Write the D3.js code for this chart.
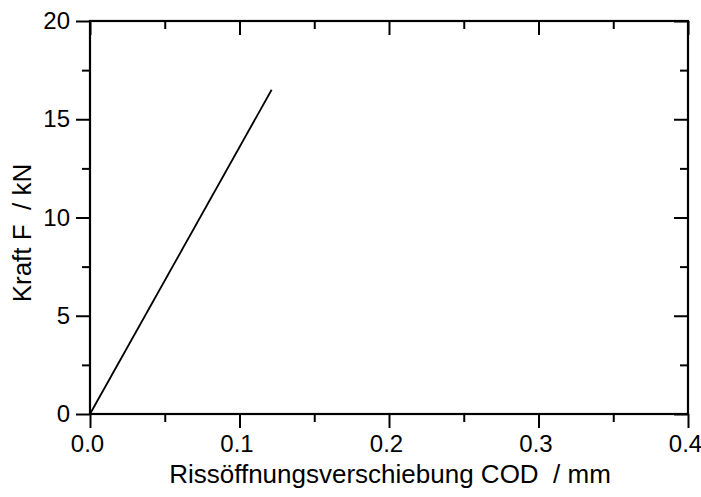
<!DOCTYPE html>
<html lang="de">
<head>
    <meta charset="UTF-8">
    <title>Kraft-COD</title>
    <script src="https://d3js.org/d3.v7.min.js"></script>
    <style>
        body {margin: 0; background: white}
        text {
            font-family: 'Liberation Sans', Arial, sans-serif;
            fill: black;
        }
        .tick text {font-size: 24px}
        .label {font-size: 26px; white-space: pre}
        .domain {display: none}
        .tick line {stroke: black; stroke-width: 2}
        .frame {fill: none; stroke: black; stroke-width: 2.2}
        .curve {fill: none; stroke: black; stroke-width: 1.8}
    </style>
</head>
<body>
<script>
    const width  = 701;
    const height = 497;
    const mLeft = 90, mRight = 688, mTop = 21, mBottom = 414;

    // data
    const cod   = [0, 0.1215];   // mm
    const force = [0, 16.5];     // kN
    const xTicks = [0, 0.1, 0.2, 0.3, 0.4];
    const yTicks = [0, 5, 10, 15, 20];
    const xMinor = [0.05, 0.15, 0.25, 0.35];
    const yMinor = [2.5, 7.5, 12.5, 17.5];

    const x = d3.scaleLinear().domain([0, 0.4]).range([mLeft, mRight]);
    const y = d3.scaleLinear().domain([0, 20]).range([mBottom, mTop]);

    const svg = d3.select("body").append("svg")
            .attr("width", width).attr("height", height);

    const major = 14, minor = 8;

    // bottom: outward ticks with labels
    svg.append("g").attr("class", "xaxis").attr("transform", `translate(0,${mBottom})`)
        .call(d3.axisBottom(x).tickValues(xTicks).tickFormat(d3.format(".1f"))
            .tickSize(major).tickPadding(7));
    svg.selectAll(".xaxis .tick text").attr("dx", -3);
    svg.append("g").attr("transform", `translate(0,${mBottom})`)
        .call(d3.axisBottom(x).tickValues(xMinor).tickFormat("").tickSize(minor));

    // left: outward ticks with labels
    svg.append("g").attr("transform", `translate(${mLeft},0)`)
        .call(d3.axisLeft(y).tickValues(yTicks).tickSize(major).tickPadding(6));
    svg.append("g").attr("transform", `translate(${mLeft},0)`)
        .call(d3.axisLeft(y).tickValues(yMinor).tickFormat("").tickSize(minor));

    // top and right: inward ticks, no labels
    svg.append("g").attr("transform", `translate(0,${mTop})`)
        .call(d3.axisTop(x).tickValues(xTicks).tickFormat("").tickSize(-major));
    svg.append("g").attr("transform", `translate(0,${mTop})`)
        .call(d3.axisTop(x).tickValues(xMinor).tickFormat("").tickSize(-minor));
    svg.append("g").attr("transform", `translate(${mRight},0)`)
        .call(d3.axisRight(y).tickValues(yTicks).tickFormat("").tickSize(-major));
    svg.append("g").attr("transform", `translate(${mRight},0)`)
        .call(d3.axisRight(y).tickValues(yMinor).tickFormat("").tickSize(-minor));

    svg.append("rect").attr("class", "frame")
        .attr("x", mLeft).attr("y", mTop)
        .attr("width", mRight - mLeft).attr("height", mBottom - mTop);

    const line = d3.line().x(d => x(d[0])).y(d => y(d[1]));
    svg.append("path").attr("class", "curve")
        .attr("d", line(d3.zip(cod, force)));

    svg.append("text").attr("class", "label")
        .attr("x", 390).attr("y", 483)
        .attr("text-anchor", "middle")
        .text("Rissöffnungsverschiebung COD  / mm");

    svg.append("text").attr("class", "label")
        .attr("transform", `translate(31,233) rotate(-90)`)
        .attr("text-anchor", "middle")
        .text("Kraft F  / kN");
</script>
</body>
</html>
